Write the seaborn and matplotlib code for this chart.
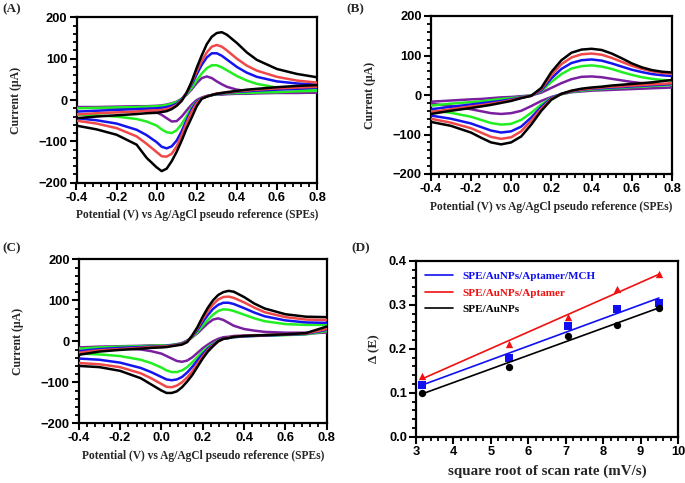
import numpy as np
import pandas as pd
import matplotlib
matplotlib.use("Agg")
import matplotlib.pyplot as plt
from matplotlib.ticker import AutoMinorLocator, MultipleLocator, FormatStrFormatter, FixedLocator
from matplotlib.lines import Line2D
import seaborn as sns

sns.set_theme(style="ticks", rc={
    'xtick.bottom': True, 'ytick.left': True,
    'xtick.direction': 'out', 'ytick.direction': 'out',
    'xtick.major.size': 5, 'ytick.major.size': 5,
    'xtick.minor.size': 3.2, 'ytick.minor.size': 3.2,
    'xtick.major.width': 1.5, 'ytick.major.width': 1.5,
    'xtick.minor.width': 1.3, 'ytick.minor.width': 1.3,
    'xtick.color': 'black', 'ytick.color': 'black',
    'xtick.minor.visible': True, 'ytick.minor.visible': True,
    'axes.edgecolor': 'black', 'axes.linewidth': 1.6,
})
plt.rcParams['font.family'] = ['Liberation Sans', 'DejaVu Sans']

# ---------------- Data ----------------
curves = ["purple", "green", "blue", "red", "black"]

# Panel A & C potential grid (V)
E_AC = [-0.4, -0.3, -0.2, -0.1, -0.05, 0.0, 0.025, 0.05, 0.075, 0.1, 0.125, 0.15,
        0.175, 0.2, 0.225, 0.25, 0.275, 0.3, 0.325, 0.35, 0.4, 0.45, 0.5, 0.6, 0.7, 0.8]
# Panel B potential grid (V)
E_B = [-0.4, -0.3, -0.2, -0.15, -0.1, -0.05, 0.0, 0.05, 0.1, 0.15, 0.2, 0.25, 0.3,
       0.35, 0.4, 0.45, 0.5, 0.55, 0.6, 0.65, 0.7, 0.75, 0.8]

# Panel A currents (uA): anodic (forward) and cathodic (reverse) branches
A_black_fwd = [-44, -40, -37, -34, -32, -31, -29, -27, -22, -14, -2, 18, 45, 78, 108, 135, 153, 162, 164, 158, 138, 115, 97, 75, 63, 55]
A_black_rev = [-62, -71, -84, -108, -140, -163, -172, -166, -148, -125, -98, -68, -42, -15, 3, 8, 12, 15, 17, 19, 22, 25, 27, 31, 34, 36]
A_red_fwd = [-35, -32, -30, -28, -26, -25, -24, -22, -18, -12, 0, 18, 42, 70, 95, 115, 129, 133, 129, 120, 100, 83, 71, 56, 47, 42]
A_red_rev = [-50, -57, -68, -88, -106, -126, -136, -137, -130, -112, -85, -55, -28, -8, 4, 9, 12, 16, 17, 18, 21, 23, 25, 28, 30, 32]
A_blue_fwd = [-28, -26, -24, -22, -21, -20, -19, -17, -14, -9, 2, 18, 38, 62, 85, 103, 113, 113, 107, 98, 80, 66, 56, 45, 40, 37]
A_blue_rev = [-44, -49, -57, -72, -85, -102, -113, -117, -112, -98, -75, -48, -22, -5, 4, 9, 12, 15, 16, 17, 20, 21, 23, 25, 27, 30]
A_green_fwd = [-20, -19, -18, -17, -16, -15, -14, -12, -9, -5, 3, 15, 30, 48, 64, 77, 84, 84, 79, 72, 58, 47, 39, 30, 26, 24]
A_green_rev = [-35, -37, -40, -46, -52, -62, -71, -78, -80, -73, -58, -38, -18, -4, 4, 9, 12, 14, 15, 16, 17, 17, 18, 19, 21, 22]
A_purple_fwd = [-17, -17, -16, -15, -15, -14, -13, -11, -8, -4, 3, 13, 26, 41, 53, 57, 53, 45, 38, 32, 25, 22, 20, 19, 18, 18]
A_purple_rev = [-18, -19, -20, -22, -25, -30, -36, -44, -52, -51, -40, -25, -11, 0, 6, 10, 12, 13, 13, 14, 15, 15, 16, 17, 17, 18]

# Panel B currents (uA)
B_black_fwd = [-48, -40, -33, -29, -25, -20, -15, -8, -2, 18, 58, 88, 107, 115, 117, 114, 105, 93, 80, 70, 63, 59, 57]
B_black_rev = [-68, -78, -95, -108, -120, -125, -120, -105, -75, -40, -12, 3, 11, 16, 19, 21, 24, 26, 28, 30, 32, 35, 38]
B_red_fwd = [-43, -36, -29, -26, -22, -18, -13, -7, -2, 15, 50, 78, 95, 103, 105, 102, 94, 84, 74, 66, 60, 56, 54]
B_red_rev = [-60, -70, -84, -95, -106, -111, -107, -92, -65, -35, -10, 3, 10, 14, 17, 19, 21, 22, 24, 25, 27, 28, 30]
B_blue_fwd = [-36, -30, -24, -21, -18, -15, -11, -6, -2, 12, 42, 66, 81, 88, 90, 87, 80, 72, 64, 58, 53, 50, 48]
B_blue_rev = [-52, -60, -72, -81, -90, -95, -92, -80, -57, -30, -8, 3, 9, 13, 16, 17, 19, 20, 22, 23, 25, 26, 28]
B_green_fwd = [-27, -22, -18, -16, -13, -10, -8, -5, -1, 10, 33, 53, 67, 73, 75, 72, 66, 58, 51, 45, 41, 38, 37]
B_green_rev = [-38, -45, -55, -63, -71, -75, -73, -63, -45, -24, -7, 2, 8, 11, 14, 15, 17, 18, 20, 21, 23, 24, 26]
B_purple_fwd = [-17, -14, -11, -10, -8, -6, -5, -3, -1, 6, 18, 30, 40, 46, 47, 45, 41, 37, 33, 30, 28, 27, 26]
B_purple_rev = [-22, -28, -36, -41, -46, -48, -46, -40, -28, -15, -5, 2, 7, 9, 11, 12, 13, 14, 15, 16, 17, 18, 19]

# Panel C currents (uA)
C_black_fwd = [-33, -25, -21, -18, -16, -15, -14, -12, -10, -8, -2, 15, 35, 60, 82, 100, 113, 120, 123, 121, 108, 92, 80, 66, 60, 59]
C_black_rev = [-60, -63, -72, -90, -105, -120, -126, -126, -122, -112, -98, -82, -62, -42, -25, -12, 0, 6, 8, 11, 13, 14, 15, 17, 20, 36]
C_red_fwd = [-28, -22, -19, -16, -14, -13, -12, -11, -9, -7, -1, 13, 32, 54, 74, 90, 102, 108, 109, 106, 95, 82, 71, 59, 53, 52]
C_red_rev = [-53, -56, -63, -78, -90, -104, -111, -112, -108, -100, -88, -73, -55, -37, -22, -10, 0, 6, 9, 11, 13, 14, 15, 17, 19, 30]
C_blue_fwd = [-24, -19, -16, -14, -13, -12, -11, -10, -8, -6, 0, 12, 28, 47, 64, 79, 89, 94, 94, 91, 81, 70, 61, 51, 46, 45]
C_blue_rev = [-42, -45, -52, -65, -75, -87, -93, -95, -93, -87, -76, -62, -46, -31, -18, -8, 0, 6, 8, 10, 12, 13, 14, 16, 18, 28]
C_green_fwd = [-18, -15, -13, -12, -11, -10, -10, -9, -7, -5, 1, 10, 23, 38, 52, 65, 74, 78, 77, 74, 65, 56, 49, 42, 40, 40]
C_green_rev = [-30, -32, -36, -45, -53, -64, -71, -75, -75, -71, -63, -51, -38, -25, -14, -6, 1, 6, 8, 10, 12, 13, 14, 15, 17, 25]
C_purple_fwd = [-15, -13, -12, -11, -10, -10, -10, -9, -7, -4, 2, 10, 20, 32, 44, 53, 56, 52, 45, 38, 30, 26, 23, 21, 21, 22]
C_purple_rev = [-16, -16, -17, -20, -24, -30, -36, -42, -48, -50, -47, -39, -28, -17, -8, 0, 6, 10, 11, 13, 14, 15, 15, 16, 18, 22]

# Panel D
sqrt_scan = [3.16, 5.48, 7.07, 8.37, 9.49]
dE_mch = [0.117, 0.180, 0.252, 0.290, 0.303]
dE_apt = [0.138, 0.210, 0.271, 0.335, 0.370]
dE_aunp = [0.100, 0.158, 0.230, 0.255, 0.292]
legend_labels = ["SPE/AuNPs/Aptamer/MCH", "SPE/AuNPs/Aptamer", "SPE/AuNPs"]

xlabel_cv = "Potential (V) vs Ag/AgCl pseudo reference (SPEs)"
ylabel_cv = "Current (\u03bcA)"
cv_xticks = [-0.4, -0.2, 0.0, 0.2, 0.4, 0.6, 0.8]

colors = {"purple": "#7a1fa0", "green": "#22ee22", "blue": "#1414ee",
          "red": "#f04848", "black": "#000000"}

panels = {
    "A": (E_AC, {"black": (A_black_fwd, A_black_rev), "red": (A_red_fwd, A_red_rev),
                 "blue": (A_blue_fwd, A_blue_rev), "green": (A_green_fwd, A_green_rev),
                 "purple": (A_purple_fwd, A_purple_rev)}),
    "B": (E_B, {"black": (B_black_fwd, B_black_rev), "red": (B_red_fwd, B_red_rev),
                "blue": (B_blue_fwd, B_blue_rev), "green": (B_green_fwd, B_green_rev),
                "purple": (B_purple_fwd, B_purple_rev)}),
    "C": (E_AC, {"black": (C_black_fwd, C_black_rev), "red": (C_red_fwd, C_red_rev),
                 "blue": (C_blue_fwd, C_blue_rev), "green": (C_green_fwd, C_green_rev),
                 "purple": (C_purple_fwd, C_purple_rev)}),
}

W, H = 685, 483
fig = plt.figure(figsize=(W / 100, H / 100), dpi=100)

def px_axes(l, t, r, b):
    return fig.add_axes([l / W, 1 - b / H, (r - l) / W, (b - t) / H])

axA = px_axes(76.5, 17.3, 317, 182.7)
axB = px_axes(430.7, 16, 672, 174)
axC = px_axes(78.7, 259.3, 326.7, 423.3)
axD = px_axes(416, 260.7, 678, 436.7)

serif = ['Liberation Serif', 'DejaVu Serif']

for key, ax in (("A", axA), ("B", axB), ("C", axC)):
    E, data = panels[key]
    for c in curves:
        fwd, rev = data[c]
        for branch in (fwd, rev):
            df = pd.DataFrame({"E": E, "I": branch})
            sns.lineplot(data=df, x="E", y="I", ax=ax, color=colors[c], lw=1.8,
                         sort=False, estimator=None)
    ax.set_xlim(-0.4, 0.8)
    ax.set_ylim(-200, 200)
    ax.xaxis.set_major_locator(FixedLocator(cv_xticks))
    ax.xaxis.set_major_formatter(FormatStrFormatter("%.1f"))
    ax.xaxis.set_minor_locator(AutoMinorLocator(5))
    ax.yaxis.set_major_locator(MultipleLocator(100))
    ax.yaxis.set_minor_locator(AutoMinorLocator(5))
    ax.set_xlabel(xlabel_cv, family=serif, fontweight="bold", fontsize=8.3, labelpad=4)
    ax.set_ylabel(ylabel_cv, family=serif, fontweight="bold", fontsize=8.5, labelpad=12)

# Panel D
d_series = [(dE_mch, "#1010f0", "s"),
            (dE_apt, "#f01010", "^"),
            (dE_aunp, "#000000", "o")]
handles = []
for ys, col, mk in d_series:
    sns.regplot(x=np.array(sqrt_scan), y=np.array(ys), ax=axD, ci=None, truncate=True,
                marker=mk, color=col, scatter_kws={"s": 28, "linewidths": 0, "alpha": 1},
                line_kws={"lw": 1.2})
    handles.append(Line2D([0], [0], color=col, lw=1.2))
axD.set_xlim(3, 10)
axD.set_ylim(0, 0.4)
axD.xaxis.set_major_locator(MultipleLocator(1))
axD.xaxis.set_minor_locator(AutoMinorLocator(5))
axD.yaxis.set_major_locator(MultipleLocator(0.1))
axD.yaxis.set_minor_locator(AutoMinorLocator(5))
axD.yaxis.set_major_formatter(FormatStrFormatter("%.1f"))
axD.set_xlabel("square root of scan rate (mV/s)", family=serif, fontweight="bold",
               fontsize=10.8, labelpad=5)
axD.set_ylabel("\u0394 (E)", family=serif, fontweight="bold", fontsize=9.5, labelpad=6)
axD.legend(handles=handles, labels=legend_labels, loc="upper left",
           frameon=False, handlelength=2.5, handletextpad=0.9, labelspacing=0.6,
           borderaxespad=0.4, bbox_to_anchor=(0.0, 0.99),
           prop={"family": serif, "weight": "bold", "size": 8.0},
           labelcolor="linecolor")

# Axes frame and ticks (applied last)
for ax in (axA, axB, axC, axD):
    for s in ax.spines.values():
        s.set_visible(True)
        s.set_linewidth(1.6)
        s.set_zorder(0.5)
    ax.tick_params(which="major", direction="out", length=5, width=1.5,
                   color="black", pad=1.5, labelsize=9.3, bottom=True, left=True)
    ax.tick_params(which="minor", direction="out", length=3.2, width=1.3,
                   color="black", bottom=True, left=True)
    for lab in ax.get_xticklabels() + ax.get_yticklabels():
        lab.set_fontweight("bold")

# Panel letters
for txt, x, y in (("(A)", 2, 9), ("(B)", 346, 9), ("(C)", 2, 248), ("(D)", 351, 248)):
    fig.text(x / W, 1 - y / H, txt, family=serif, fontweight="bold", fontsize=9.5,
             ha="left", va="center")

fig.savefig("out.png", dpi=100)
